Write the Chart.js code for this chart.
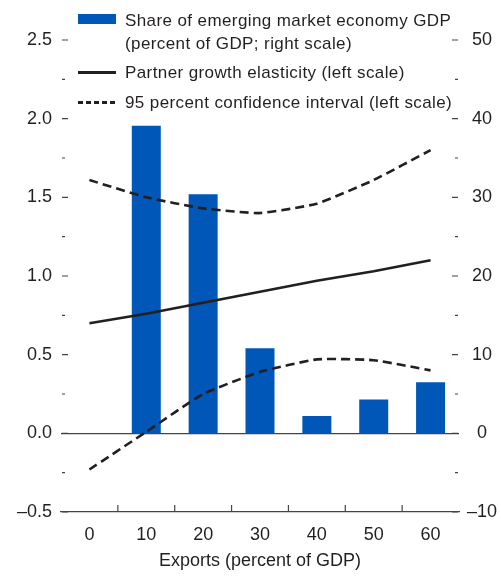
<!DOCTYPE html>
<html>
<head>
<meta charset="utf-8">
<script src="https://cdn.jsdelivr.net/npm/chart.js@4"></script>
<style>
  html, body { margin: 0; padding: 0; background: #fff; }
  #wrap { position: relative; width: 501px; height: 576px; }
  #legend { position: absolute; left: 0; top: 0; font-family: "Liberation Sans", Arial, sans-serif; font-size: 17px; color: #231f20; letter-spacing: 0.4px; }
  #legend .txt { position: absolute; left: 125px; line-height: 20px; white-space: nowrap; }
  #legend .sw { position: absolute; left: 78px; width: 38px; }
</style>
</head>
<body>
<div id="wrap">
  <canvas id="elastChart"></canvas>
  <div id="legend">
    <div class="sw" style="top:14px;height:10px;background:#0057b8;"></div>
    <div class="txt" style="top:11px;">Share of emerging market economy GDP</div>
    <div class="txt" style="top:34px;">(percent of GDP; right scale)</div>
    <div class="sw" style="top:71px;height:2.5px;background:#231f20;"></div>
    <div class="txt" style="top:63px;">Partner growth elasticity (left scale)</div>
    <div class="sw" style="top:101px;height:2.5px;background:repeating-linear-gradient(90deg,#231f20 0 5px,transparent 5px 8px);"></div>
    <div class="txt" style="top:93px;">95 percent confidence interval (left scale)</div>
  </div>
</div>
<script>
const exports = ["0", "10", "20", "30", "40", "50", "60"];
const emShare = [null, 39.1, 30.4, 10.8, 2.2, 4.3, 6.5];
const elasticity = [0.70, 0.76, 0.83, 0.90, 0.97, 1.03, 1.10];
const upperCI = [1.61, 1.50, 1.43, 1.40, 1.46, 1.61, 1.80];
const lowerCI = [-0.23, 0.01, 0.25, 0.39, 0.47, 0.465, 0.40];

const FONT = "'Liberation Sans', Arial, sans-serif";
const INK = "#231f20";

function fmt(v) {
  return v < 0 ? "\u2013" + Math.abs(v) : String(v);
}

// ticks drawn inward, like the original
const innerTicks = {
  id: "innerTicks",
  afterDraw(chart) {
    const { ctx, chartArea, scales } = chart;
    ctx.save();
    ctx.strokeStyle = "#444";
    ctx.lineWidth = 1.2;
    ctx.beginPath();
    scales.y.ticks.forEach(t => {
      const y = scales.y.getPixelForValue(t.value);
      const len = Math.abs(t.value * 2 - Math.round(t.value * 2)) < 1e-6 ? 6 : 3;
      ctx.moveTo(chartArea.left + 1, y);
      ctx.lineTo(chartArea.left + 1 + len, y);
      ctx.moveTo(chartArea.right - 1, y);
      ctx.lineTo(chartArea.right - 1 - len, y);
    });
    for (let i = 0; i < exports.length - 1; i++) {
      const x = (scales.x.getPixelForValue(i) + scales.x.getPixelForValue(i + 1)) / 2;
      ctx.moveTo(x, chartArea.bottom);
      ctx.lineTo(x, chartArea.bottom - 7);
    }
    ctx.stroke();
    ctx.restore();
  }
};

const ctx = document.getElementById("elastChart").getContext("2d");
const elastChart = new Chart(ctx, {
  data: {
    labels: exports,
    datasets: [
      {
        type: "line",
        label: "Partner growth elasticity (left scale)",
        data: elasticity,
        yAxisID: "y",
        borderColor: INK,
        borderWidth: 2.6,
        pointRadius: 0,
        order: 1,
      },
      {
        type: "line",
        label: "95 percent confidence interval (left scale)",
        data: upperCI,
        yAxisID: "y",
        borderColor: INK,
        borderWidth: 2.6,
        borderDash: [9, 5],
        pointRadius: 0,
        tension: 0.15,
        order: 1,
      },
      {
        type: "line",
        label: "lower",
        data: lowerCI,
        yAxisID: "y",
        borderColor: INK,
        borderWidth: 2.6,
        borderDash: [9, 5],
        pointRadius: 0,
        tension: 0.15,
        order: 1,
      },
      {
        type: "bar",
        label: "Share of emerging market economy GDP (percent of GDP; right scale)",
        data: emShare,
        yAxisID: "y1",
        backgroundColor: "#0057b8",
        barPercentage: 0.51,
        categoryPercentage: 1,
        order: 2,
      },
    ],
  },
  options: {
    responsive: true,
    maintainAspectRatio: false,
    animation: false,
    layout: { padding: { top: 40, left: 0, right: 0, bottom: 0 } },
    plugins: {
      legend: { display: false },
      tooltip: { enabled: false },
    },
    scales: {
      x: {
        offset: true,
        grid: { display: false },
        border: { display: true, color: "#444", width: 1.2 },
        ticks: { color: INK, font: { family: FONT, size: 18 }, padding: 4, maxRotation: 0 },
        title: {
          display: true,
          text: "Exports (percent of GDP)",
          color: INK,
          font: { family: FONT, size: 18 },
          padding: { top: 0, bottom: 4 },
        },
        afterFit: s => { s.height = 64; },
      },
      y: {
        position: "left",
        min: -0.5,
        max: 2.5,
        border: { display: false },
        grid: {
          drawTicks: false,
          color: c => (c.tick && c.tick.value === 0 ? "#444" : "transparent"),
          lineWidth: 1.2,
        },
        ticks: {
          stepSize: 0.25,
          padding: 9,
          color: INK,
          font: { family: FONT, size: 18 },
          callback: v => (Math.abs(v * 2 - Math.round(v * 2)) < 1e-6 ? fmt(v.toFixed(1)) : ""),
        },
        afterFit: s => { s.width = 61; },
      },
      y1: {
        position: "right",
        min: -10,
        max: 50,
        border: { display: false },
        grid: { display: false, drawTicks: false },
        ticks: {
          stepSize: 5,
          padding: 8,
          crossAlign: "center",
          color: INK,
          font: { family: FONT, size: 18 },
          callback: v => (v % 10 === 0 ? fmt(v) : ""),
        },
        afterFit: s => { s.width = 42; },
      },
    },
  },
  plugins: [innerTicks],
});
</script>
</body>
</html>
